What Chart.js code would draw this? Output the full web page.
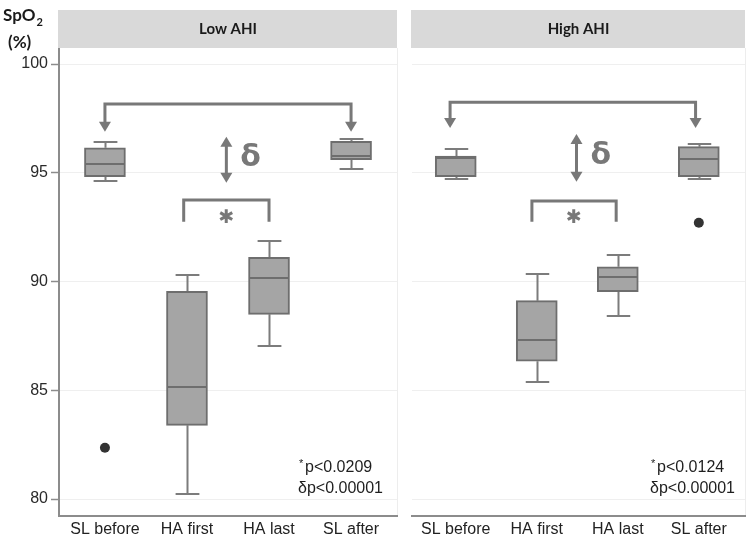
<!DOCTYPE html>
<html><head><meta charset="utf-8">
<script src="https://cdn.jsdelivr.net/npm/chart.js@4.4.1/dist/chart.umd.min.js"></script>
<style>
html,body{margin:0;padding:0;background:#fff;}
#wrap{position:relative;width:750px;height:540px;overflow:hidden;}
#c1{position:absolute;left:0;top:0;}
#c2{position:absolute;left:405px;top:0;}
</style></head><body>
<div id="wrap"><canvas id="c1" width="405" height="540"></canvas><canvas id="c2" width="345" height="540"></canvas></div>
<script>
// ---- data ----
const categories = ['SL before', 'HA first', 'HA last', 'SL after'];
const yTicks = [80, 85, 90, 95, 100];
const panelTitles = ['Low AHI', 'High AHI'];

const lowMin    = [94.60, 80.25, 87.05, 95.16];
const lowQ1     = [94.82, 83.39, 88.49, 95.60];
const lowMedian = [95.40, 85.15, 90.15, 95.78];
const lowQ3     = [96.15, 89.55, 91.11, 96.45];
const lowMax    = [96.43, 90.30, 91.88, 96.55];
const lowOutliers = [[82.36], [], [], []];

const highMin    = [94.73, 85.38, 88.43, 94.73];
const highQ1     = [94.82, 86.34, 89.53, 94.82];
const highMedian = [95.66, 87.31, 90.19, 95.62];
const highQ3     = [95.77, 89.12, 90.68, 96.20];
const highMax    = [96.08, 90.33, 91.23, 96.31];
const highOutliers = [[], [], [], [92.70]];

const lowPValues  = ['p<0.0209', 'p<0.00001'];
const highPValues = ['p<0.0124', 'p<0.00001'];

// ---- styling / annotation geometry (data units) ----
const GRAY = '#787878';
const BOX_FILL = '#a5a5a5';
const BOX_EDGE = '#6e6e6e';
const lowAnnot = {
  top: {x1: 0, x2: 3, y: 98.16, tip: 96.89},
  delta: {x: 1.48, y1: 96.66, y2: 94.54},
  star: {x1: 0.96, x2: 2.0, y: 93.75, yEnd: 92.75},
  textX: 298
};
const highAnnot = {
  top: {x1: -0.07, x2: 2.96, y: 98.24, tip: 97.06},
  delta: {x: 1.49, y1: 96.78, y2: 94.59},
  star: {x1: 0.94, x2: 1.98, y: 93.70, yEnd: 92.75},
  textX: 650 - 405
};

function boxPlugin(stats, annot, title, pvals, isLeft) {
  return {
    id: 'boxextras',
    beforeDraw(chart) {
      const {ctx, chartArea: a} = chart;
      ctx.save();
      ctx.fillStyle = '#d9d9d9';
      ctx.fillRect(a.left - 1, 10, a.right - a.left + 1, 38);
      ctx.fillStyle = '#1a1a1a';
      ctx.font = 'bold 15px Lato';
      ctx.textAlign = 'center';
      ctx.textBaseline = 'middle';
      ctx.fillText(title, (a.left + a.right) / 2, 29);
      // faint panel right border
      ctx.strokeStyle = '#ededed';
      ctx.lineWidth = 1;
      ctx.beginPath();
      ctx.moveTo(a.right + 0.5, 48); ctx.lineTo(a.right + 0.5, a.bottom);
      ctx.stroke();
      if (isLeft) {
        ctx.fillStyle = '#1a1a1a';
        ctx.textAlign = 'left';
        ctx.textBaseline = 'alphabetic';
        ctx.font = 'bold 17px Lato';
        ctx.fillText('SpO', 3, 21);
        const w = ctx.measureText('SpO').width;
        ctx.font = 'bold 11px Lato';
        ctx.fillText('2', 3 + w + 1, 26);
        ctx.font = 'bold 17px Lato';
        ctx.fillText('(%)', 8, 48);
      }
      ctx.restore();
    },
    beforeDatasetsDraw(chart) {
      const {ctx, scales: {x, y}} = chart;
      ctx.save();
      ctx.strokeStyle = '#7c7c7c';
      ctx.lineWidth = 2;
      stats.min.forEach((mn, i) => {
        const px = Math.round(x.getPixelForValue(i)) + 0.5;
        const half = x.getPixelForValue(i + 0.145) - x.getPixelForValue(i);
        const yMin = Math.round(y.getPixelForValue(mn)), yMax = Math.round(y.getPixelForValue(stats.max[i]));
        const yQ1 = y.getPixelForValue(stats.q1[i]), yQ3 = y.getPixelForValue(stats.q3[i]);
        ctx.beginPath();
        ctx.moveTo(px, yQ1); ctx.lineTo(px, yMin);
        ctx.moveTo(px, yQ3); ctx.lineTo(px, yMax);
        ctx.moveTo(px - half, yMin); ctx.lineTo(px + half, yMin);
        ctx.moveTo(px - half, yMax); ctx.lineTo(px + half, yMax);
        ctx.stroke();
      });
      ctx.restore();
    },
    afterDatasetsDraw(chart) {
      const {ctx, scales: {x, y}} = chart;
      ctx.save();
      ctx.strokeStyle = BOX_EDGE;
      ctx.lineWidth = 2;
      stats.median.forEach((m, i) => {
        const bar = chart.getDatasetMeta(0).data[i];
        const py = Math.round(y.getPixelForValue(m));
        ctx.beginPath();
        ctx.moveTo(bar.x - bar.width / 2 + 1, py);
        ctx.lineTo(bar.x + bar.width / 2 - 1, py);
        ctx.stroke();
      });
      // annotations
      ctx.strokeStyle = GRAY;
      ctx.fillStyle = GRAY;
      ctx.lineWidth = 3;
      ctx.lineJoin = 'miter';
      const X = v => x.getPixelForValue(v), Y = v => y.getPixelForValue(v);
      const head = (px, py, dir) => { // dir 1 = down, -1 = up
        ctx.beginPath();
        ctx.moveTo(px, py);
        ctx.lineTo(px - 6, py - dir * 10);
        ctx.lineTo(px + 6, py - dir * 10);
        ctx.closePath();
        ctx.fill();
      };
      const t = annot.top;
      ctx.beginPath();
      ctx.moveTo(X(t.x1), Y(t.tip) - 8);
      ctx.lineTo(X(t.x1), Y(t.y));
      ctx.lineTo(X(t.x2), Y(t.y));
      ctx.lineTo(X(t.x2), Y(t.tip) - 8);
      ctx.stroke();
      head(X(t.x1), Y(t.tip), 1);
      head(X(t.x2), Y(t.tip), 1);
      const d = annot.delta;
      ctx.beginPath();
      ctx.moveTo(X(d.x), Y(d.y1) + 8);
      ctx.lineTo(X(d.x), Y(d.y2) - 8);
      ctx.stroke();
      head(X(d.x), Y(d.y1), -1);
      head(X(d.x), Y(d.y2), 1);
      ctx.font = 'bold 30px "DejaVu Sans"';
      ctx.textAlign = 'left';
      ctx.textBaseline = 'middle';
      ctx.fillText('δ', X(d.x) + 14, (Y(d.y1) + Y(d.y2)) / 2 - 2);
      const s = annot.star;
      ctx.beginPath();
      ctx.moveTo(X(s.x1), Y(s.yEnd));
      ctx.lineTo(X(s.x1), Y(s.y));
      ctx.lineTo(X(s.x2), Y(s.y));
      ctx.lineTo(X(s.x2), Y(s.yEnd));
      ctx.stroke();
      ctx.font = 'bold 19px "DejaVu Sans"';
      ctx.textAlign = 'center';
      ctx.fillText('✱', (X(s.x1) + X(s.x2)) / 2, Y(s.yEnd) - 4);
      // p-values
      ctx.fillStyle = '#1e1e1e';
      ctx.textAlign = 'left';
      ctx.textBaseline = 'middle';
      ctx.font = '11px "Liberation Sans"';
      ctx.fillText('*', annot.textX + 1, 464);
      ctx.font = '16px "Liberation Sans"';
      ctx.fillText(pvals[0], annot.textX + 7, 468);
      ctx.fillText('δ' + pvals[1], annot.textX, 489);
      ctx.restore();
    }
  };
}

function makeChart(canvasId, stats, outliers, annot, title, pvals, isLeft) {
  const boxData = categories.map((c, i) => ({x: i, y: [stats.q1[i], stats.q3[i]]}));
  const outData = outliers.flatMap((arr, i) => arr.map(v => ({x: i, y: v})));
  return new Chart(document.getElementById(canvasId), {
    type: 'bar',
    data: {
      datasets: [
        {type: 'bar', data: boxData, backgroundColor: BOX_FILL, borderColor: BOX_EDGE,
         borderWidth: 2, borderSkipped: false, barThickness: 41},
        {type: 'scatter', data: outData, pointRadius: 5, pointBackgroundColor: '#333333',
         pointBorderColor: '#333333', pointBorderWidth: 0}
      ]
    },
    options: {
      responsive: false,
      animation: false,
      devicePixelRatio: 1,
      layout: {padding: isLeft ? {top: 49, right: 8, left: 0, bottom: 0} : {top: 49, left: 7, right: 1, bottom: 0}},
      plugins: {legend: {display: false}, tooltip: {enabled: false}},
      scales: {
        x: {
          type: 'linear',
          offset: false,
          min: isLeft ? -0.56 : -0.54,
          max: isLeft ? 3.56 : 3.57,
          afterBuildTicks: ax => { ax.ticks = categories.map((c, i) => ({value: i})); },
          afterFit: ax => { ax.height = 24; },
          ticks: {
            callback: v => categories[v],
            font: {family: 'Liberation Sans', size: 16},
            color: '#222222',
            padding: 4,
            maxRotation: 0,
            autoSkip: false
          },
          grid: {display: false, drawTicks: false, offset: false},
          border: {display: true, color: '#8c8c8c', width: 2}
        },
        y: {
          type: 'linear',
          min: 79.22,
          max: 100.69,
          afterBuildTicks: ax => { ax.ticks = yTicks.map(v => ({value: v})); },
          afterFit: ax => { ax.width = isLeft ? 59 : 0; },
          ticks: {
            display: isLeft,
            font: {family: 'Liberation Sans', size: 16},
            color: '#2a2a2a',
            padding: 3
          },
          grid: {
            color: '#efefef',
            lineWidth: 1,
            drawTicks: isLeft,
            tickLength: 8,
            tickColor: '#8c8c8c',
            tickWidth: 1.5
          },
          border: {display: isLeft, color: '#8c8c8c', width: 2}
        }
      }
    },
    plugins: [boxPlugin(stats, annot, title, pvals, isLeft)]
  });
}

makeChart('c1', {min: lowMin, q1: lowQ1, median: lowMedian, q3: lowQ3, max: lowMax},
  lowOutliers, lowAnnot, panelTitles[0], lowPValues, true);
makeChart('c2', {min: highMin, q1: highQ1, median: highMedian, q3: highQ3, max: highMax},
  highOutliers, highAnnot, panelTitles[1], highPValues, false);
</script>
</body></html>
